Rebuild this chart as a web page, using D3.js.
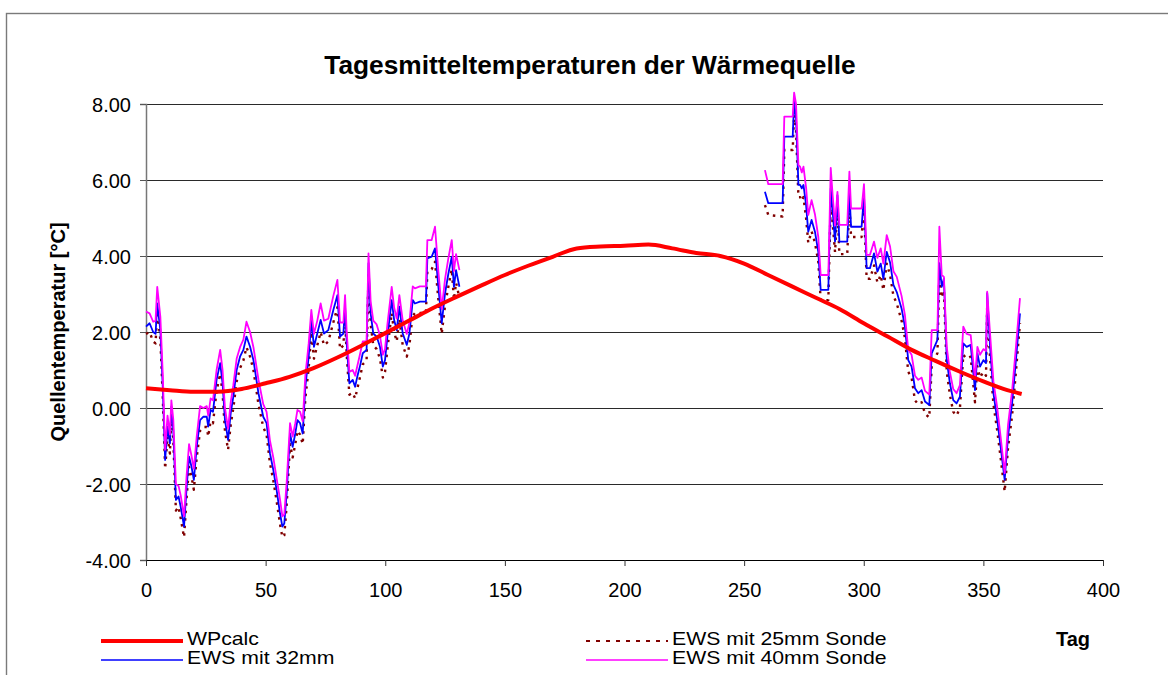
<!DOCTYPE html>
<html>
<head>
<meta charset="utf-8">
<script src="https://cdn.jsdelivr.net/npm/d3@7"></script>
<style>
  html, body { margin: 0; padding: 0; background: #fff; }
  svg { display: block; font-family: "Liberation Sans", Arial, sans-serif; }
</style>
</head>
<body>
<svg id="chart" width="1168" height="675"></svg>
<script>
// Axis ticks
const xTicks = [0, 50, 100, 150, 200, 250, 300, 350, 400];
const yTicks = [-4, -2, 0, 2, 4, 6, 8];
const yTickLabels = ["-4.00", "-2.00", "0.00", "2.00", "4.00", "6.00", "8.00"];

// Series names (legend)
const seriesNames = ["WPcalc", "EWS mit 25mm Sonde", "EWS mit 32mm", "EWS mit 40mm Sonde"];

// WPcalc: calculated source temperature over the year
const wpDays  = [0, 10, 20, 30, 40, 50, 60, 70, 80, 90, 100, 110, 120, 130, 140, 150, 160, 170, 180, 190,
                 200, 210, 220, 230, 240, 250, 260, 270, 280, 290, 300, 310, 320, 330, 340, 350, 360, 366];
const wpTemps = [0.52, 0.47, 0.43, 0.43, 0.5, 0.65, 0.82, 1.05, 1.33, 1.64, 1.97, 2.3, 2.63, 2.93, 3.22, 3.5, 3.75, 3.98, 4.2, 4.25,
                 4.27, 4.3, 4.2, 4.08, 4.0, 3.8, 3.5, 3.2, 2.9, 2.6, 2.23, 1.88, 1.53, 1.24, 0.96, 0.7, 0.47, 0.37];

// Measured borehole source temperatures, first heating period (days 0-131)
const springDays = [0, 1.5, 3, 4, 4.7, 6, 7, 8, 9, 10, 10.6, 11.4, 12.5, 13.6, 14.5, 15.9, 17, 18, 19, 20,
  21.2, 22.6, 24, 25.4, 26, 27, 28, 29.5, 31, 32, 33, 34.3, 35.4, 36.5, 37.9, 39.3, 40.7, 42, 43.5, 44.9,
  47, 49, 50.4, 51.8, 53.2, 54.6, 56, 57, 57.8, 58.8, 60.2, 61.3, 62.4, 63.3, 64.4, 65.5, 66.6, 68, 69.1, 70.2,
  71.6, 73, 74.4, 76.2, 78.3, 80, 81.1, 82.5, 83.2, 83.9, 85, 86.4, 87.4, 88.3, 89.4, 90.6, 92.2, 93, 93.9, 95,
  96.4, 97.8, 99, 99.9, 100.9, 102.7, 103.7, 104.8, 105.9, 107.3, 109, 110.1, 111.5, 112.4, 114.5, 117, 117.6, 119.4, 120.8, 122.2,
  123.6, 125, 126.4, 127.8, 128.7, 129.6, 131];
const springEws25 = [1.95, 2.0, 1.75, 1.7, 2.55, 1.8, 0.3, -1.6, -0.75, -1.2, -0.2, -0.85, -2.7, -2.6, -2.9, -3.4, -2.35, -1.55, -1.8, -2.15,
  -1.3, -0.6, -0.5, -0.5, -0.75, -0.35, -0.4, 0.45, 0.9, 0.4, -0.6, -1.1, -0.45, 0.0, 0.7, 1.05, 1.25, 1.6, 1.35, 1.0,
  0.1, -0.5, -0.7, -1.45, -1.9, -2.45, -3.05, -3.4, -3.35, -2.55, -0.95, -1.3, -0.95, -0.6, -0.7, -0.95, 0.25, 1.05, 2.0, 1.3,
  1.65, 2.0, 1.65, 1.75, 2.25, 2.65, 1.55, 1.65, 2.35, 1.4, 0.35, 0.4, 0.25, 0.5, 0.8, 1.15, 1.25, 3.5, 2.2, 1.65,
  1.55, 1.3, 0.8, 0.95, 1.55, 2.5, 2.0, 1.75, 2.35, 1.65, 1.35, 1.65, 2.5, 2.45, 2.5, 2.5, 3.6, 3.65, 3.85, 2.85,
  1.95, 2.7, 3.2, 3.65, 2.85, 3.3, 2.9];
const springEws32 = [2.14, 2.23, 2.0, 1.95, 2.75, 2.05, 0.56, -1.37, -0.49, -0.93, 0.04, -0.58, -2.42, -2.33, -2.6, -3.12, -2.07, -1.28, -1.54, -1.89,
  -1.02, -0.32, -0.23, -0.23, -0.49, -0.05, -0.1, 0.74, 1.18, 0.65, -0.32, -0.84, -0.14, 0.3, 1.0, 1.35, 1.53, 1.88, 1.61, 1.26,
  0.39, -0.23, -0.4, -1.19, -1.63, -2.16, -2.77, -3.12, -3.04, -2.25, -0.67, -1.02, -0.67, -0.32, -0.4, -0.67, 0.56, 1.35, 2.32, 1.61,
  1.96, 2.32, 1.96, 2.05, 2.58, 2.97, 1.88, 1.96, 2.67, 1.7, 0.65, 0.74, 0.56, 0.82, 1.09, 1.44, 1.53, 3.81, 2.49, 1.96,
  1.88, 1.61, 1.09, 1.26, 1.88, 2.84, 2.32, 2.05, 2.67, 1.96, 1.66, 1.96, 2.84, 2.75, 2.8, 2.8, 3.94, 3.98, 4.2, 3.19,
  2.23, 3.02, 3.54, 3.98, 3.19, 3.63, 3.19];
const springEws40 = [2.54, 2.49, 2.27, 2.3, 3.19, 2.4, 0.9, -1.1, -0.2, -0.7, 0.2, -0.3, -2.0, -2.05, -2.3, -2.85, -1.75, -0.95, -1.25, -1.6,
  -0.75, 0.05, 0.0, 0.05, -0.2, 0.25, 0.2, 1.0, 1.53, 1.0, 0.0, -0.55, 0.15, 0.6, 1.3, 1.6, 1.8, 2.27, 2.0, 1.6,
  0.75, 0.1, -0.1, -0.85, -1.3, -1.85, -2.4, -2.85, -2.8, -1.95, -0.4, -0.75, -0.4, -0.05, -0.1, -0.35, 0.85, 1.7, 2.58, 1.95,
  2.3, 2.75, 2.3, 2.35, 2.95, 3.37, 2.25, 2.25, 2.97, 2.0, 0.95, 1.0, 0.85, 1.1, 1.4, 1.75, 1.75, 4.07, 2.8, 2.3,
  2.2, 1.9, 1.4, 1.55, 2.2, 3.19, 2.65, 2.35, 2.97, 2.3, 1.95, 2.25, 3.2, 3.15, 3.2, 3.2, 4.42, 4.42, 4.77, 3.6,
  2.6, 3.4, 3.95, 4.42, 3.6, 4.05, 3.63];

// Second heating period (days 258-366)
const autumnDays = [258.7, 260.1, 266.1, 266.8, 270.3, 270.9, 271.7, 272.7, 273.4, 274.1, 274.8, 275.9, 276.8, 278.2, 279.6, 281, 282, 285.2, 286.2, 287,
  288, 289, 289.8, 290.8, 293.1, 294, 294.7, 299.1, 300.1, 301.2, 302.6, 304.3, 305.7, 307.1, 308.2, 309.6, 311, 312.4, 313.8, 315.8,
  317.2, 318.6, 320, 321.4, 322.8, 324.2, 325.6, 327.4, 328.4, 330.8, 331.6, 332.6, 333.5, 334.7, 336, 337.4, 338.8, 340.2, 341.6, 343,
  344.7, 346.5, 347.5, 348.6, 350, 351.1, 351.6, 352.8, 354.2, 355.8, 357.2, 358.9, 360.3, 362, 363.6, 365.3];
const autumnEws25 = [5.34, 5.08, 5.04, 6.79, 6.79, 7.71, 7.3, 5.55, 5.55, 5.45, 5.55, 5.0, 4.35, 4.65, 4.35, 3.85, 2.84, 2.84, 5.45, 4.85,
  4.1, 5.3, 4.05, 4.05, 4.05, 5.35, 4.5, 4.5, 5.3, 3.4, 3.4, 3.75, 3.3, 3.5, 3.1, 3.8, 3.5, 2.95, 2.75, 2.3,
  1.85, 0.95, 0.8, 0.2, 0.1, 0.15, -0.15, -0.25, 1.1, 1.45, 3.5, 2.9, 3.1, 0.95, 0.35, -0.1, -0.2, 0.0, 1.4, 1.3,
  1.35, 0.15, 1.1, 0.8, 0.95, 0.85, 2.7, 1.3, 0.1, -0.6, -1.3, -2.2, -1.05, -0.2, 0.95, 2.23];
const autumnEws32 = [5.69, 5.39, 5.39, 7.14, 7.14, 8.06, 7.62, 5.87, 5.87, 5.78, 5.87, 5.34, 4.64, 4.95, 4.64, 4.11, 3.11, 3.11, 5.78, 5.17,
  4.38, 5.6, 4.38, 4.38, 4.38, 5.69, 4.77, 4.77, 5.6, 3.68, 3.68, 4.07, 3.59, 3.8, 3.4, 4.11, 3.83, 3.24, 3.05, 2.62,
  2.14, 1.26, 1.09, 0.52, 0.39, 0.47, 0.17, 0.08, 1.44, 1.79, 3.81, 3.19, 3.41, 1.26, 0.65, 0.21, 0.12, 0.3, 1.7, 1.61,
  1.66, 0.47, 1.44, 1.09, 1.26, 1.18, 3.02, 1.61, 0.39, -0.32, -1.02, -1.89, -0.75, 0.12, 1.26, 2.49];
const autumnEws40 = [6.26, 5.89, 5.89, 7.67, 7.67, 8.3, 8.0, 6.39, 6.35, 6.2, 6.35, 5.8, 5.08, 5.47, 5.1, 4.5, 3.5, 3.5, 6.32, 5.6,
  4.8, 5.69, 4.82, 4.82, 4.82, 6.22, 5.25, 5.25, 5.89, 4.03, 4.03, 4.38, 3.95, 4.2, 3.8, 4.55, 4.25, 3.6, 3.45, 2.95,
  2.45, 1.53, 1.4, 0.85, 0.74, 0.8, 0.45, 0.35, 2.05, 2.05, 4.77, 3.5, 3.45, 1.6, 0.95, 0.5, 0.39, 0.6, 2.14, 1.95,
  1.92, 0.75, 1.61, 1.4, 1.55, 1.5, 3.06, 1.95, 0.7, 0.0, -0.75, -1.72, -0.45, 0.45, 1.6, 2.89];

const colors = { wp: "#ff0000", ews25: "#800000", ews32: "#0000ff", ews40: "#ff00ff" };

const svg = d3.select("#chart");
svg.append("rect").attr("width", 1168).attr("height", 675).attr("fill", "#fff");

// outer chart frame
svg.append("rect")
  .attr("x", 6.5).attr("y", 13.5).attr("width", 1200).attr("height", 700)
  .attr("fill", "none").attr("stroke", "#7a7a7a").attr("stroke-width", 1.4);

const plot = { left: 146, right: 1103, top: 104, bottom: 560 };
const x = d3.scaleLinear().domain([0, 400]).range([plot.left, plot.right]);
const y = d3.scaleLinear().domain([-4, 8]).range([plot.bottom, plot.top]);

// horizontal gridlines
const grid = svg.append("g").attr("transform", `translate(${plot.left},0)`)
  .call(d3.axisLeft(y).tickValues(yTicks).tickSize(-(plot.right - plot.left)).tickFormat(""));
grid.select(".domain").remove();
grid.selectAll("line").attr("stroke", "#2a2a2a").attr("stroke-width", 1)
  .attr("shape-rendering", "crispEdges");

// y axis
const yAxis = svg.append("g").attr("transform", `translate(${plot.left},0)`)
  .call(d3.axisLeft(y).tickValues(yTicks).tickSize(6).tickPadding(9)
    .tickFormat((d, i) => yTickLabels[i]));
yAxis.select(".domain").attr("stroke", "#777").attr("stroke-width", 1.5);
yAxis.selectAll(".tick line").attr("stroke", "#555");
yAxis.selectAll("text").attr("font-size", 20).attr("fill", "#000")
  .attr("font-family", "Liberation Sans, Arial, sans-serif").attr("dy", "0.35em");

// x axis
const xAxis = svg.append("g").attr("transform", `translate(0,${plot.bottom})`)
  .call(d3.axisBottom(x).tickValues(xTicks).tickSize(6).tickSizeOuter(0).tickFormat(d3.format("d")));
xAxis.select(".domain").attr("stroke", "#000").attr("stroke-width", 1.2);
xAxis.selectAll(".tick line").attr("stroke", "#333");
xAxis.selectAll("text").attr("font-size", 20).attr("fill", "#000")
  .attr("font-family", "Liberation Sans, Arial, sans-serif")
  .attr("y", 23).attr("dy", "0.71em");

// series lines
const line = d3.line().x(d => x(d[0])).y(d => y(d[1]));
const zip = (days, vals) => days.map((d, i) => [d, vals[i]]);

function drawSeries(vals1, vals2, color, width, dash) {
  [zip(springDays, vals1), zip(autumnDays, vals2)].forEach(seg => {
    svg.append("path").datum(seg)
      .attr("fill", "none").attr("stroke", color).attr("stroke-width", width)
      .attr("stroke-dasharray", dash || null)
      .attr("stroke-linejoin", "round")
      .attr("d", line);
  });
}
drawSeries(springEws25, autumnEws25, colors.ews25, 2.4, "2.5,5");
drawSeries(springEws32, autumnEws32, colors.ews32, 1.8);
drawSeries(springEws40, autumnEws40, colors.ews40, 1.8);

svg.append("path").datum(zip(wpDays, wpTemps))
  .attr("fill", "none").attr("stroke", colors.wp).attr("stroke-width", 4)
  .attr("stroke-linejoin", "round")
  .attr("d", line.curve(d3.curveMonotoneX));

// title
svg.append("text").attr("x", 590).attr("y", 74).attr("text-anchor", "middle")
  .attr("font-size", 26.3).attr("font-weight", "bold")
  .text("Tagesmitteltemperaturen der Wärmequelle");

// y axis title
svg.append("text").attr("transform", "translate(65,332) rotate(-90)")
  .attr("text-anchor", "middle").attr("font-size", 20).attr("font-weight", "bold")
  .text("Quellentemperatur [°C]");

// x axis title
svg.append("text").attr("x", 1073).attr("y", 646).attr("text-anchor", "middle")
  .attr("font-size", 20).attr("font-weight", "bold").text("Tag");

// legend
const legendItems = [
  { name: seriesNames[0], color: colors.wp, width: 4, dash: null, x: 101, y: 641 },
  { name: seriesNames[2], color: colors.ews32, width: 1.6, dash: null, x: 101, y: 660 },
  { name: seriesNames[1], color: colors.ews25, width: 2, dash: "4,6", x: 586, y: 641 },
  { name: seriesNames[3], color: colors.ews40, width: 1.6, dash: null, x: 586, y: 660 }
];
const lg = svg.append("g");
legendItems.forEach(it => {
  lg.append("line").attr("x1", it.x).attr("x2", it.x + 82).attr("y1", it.y).attr("y2", it.y)
    .attr("stroke", it.color).attr("stroke-width", it.width).attr("stroke-dasharray", it.dash);
  lg.append("text").attr("transform", `translate(${it.x + 86},${it.y + 3.5}) scale(1.18,1)`)
    .attr("font-size", 18).text(it.name);
});
</script>
</body>
</html>
